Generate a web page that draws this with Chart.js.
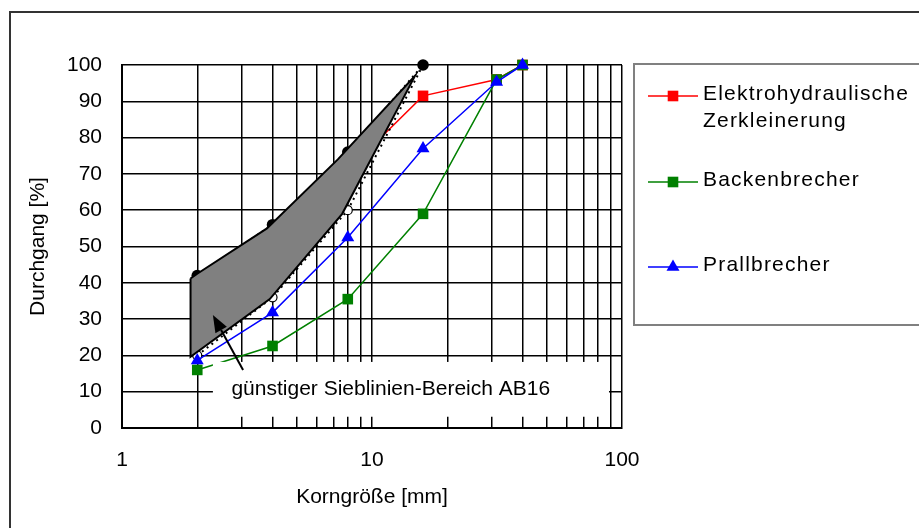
<!DOCTYPE html>
<html>
<head>
<meta charset="utf-8">
<script src="https://cdn.jsdelivr.net/npm/chart.js@4/dist/chart.umd.min.js"></script>
<style>
    html, body { margin: 0; padding: 0; background: #fff; overflow: hidden; }
    #frame { position: absolute; left: 9px; top: 11px; width: 1000px; height: 600px; border: 2px solid #333; }
    #wrap { position: absolute; left: 0; top: 0; width: 919px; height: 528px; }
</style>
</head>
<body>
<div id="frame"></div>
<div id="wrap"><canvas id="sieveChart" width="919" height="528"></canvas></div>
<script>
// sieve sizes [mm] and passing [%]
const kornGroesse = [2, 4, 8, 16, 31.5, 40];
const elektroDurchgang = [28, 47, 71, 91.5, 96, 100];
const backenDurchgang = [16, 22.6, 35.5, 59, 96, 100];
const prallDurchgang = [18.6, 31.8, 52.5, 77, 95.3, 100];

// AB16 grading limits
const grenzKorn = [2, 4, 8, 16];
const grenzOben = [42, 56, 76, 100];
const grenzUnten = [20, 36, 60, 100];

// outline of the favourable area
const bereichKorn = [1.88, 2.0, 3.8, 7.3, 14.86, 7.6, 3.9, 1.88, 1.88];
const bereichDurchgang = [41.2, 42.5, 55, 74, 97, 59, 35.5, 19.6, 41.2];

const xGrid = [1, 2, 3, 4, 5, 6, 7, 8, 9, 10, 20, 30, 40, 50, 60, 70, 80, 90, 100];
const xLabels = [1, 10, 100];

const FONT = "'Liberation Sans', Arial, sans-serif";

Chart.defaults.font.family = FONT;
Chart.defaults.font.size = 21;
Chart.defaults.color = '#000';

function pts(xs, ys) {
    return xs.map(function (x, i) { return {x: x, y: ys[i]}; });
}

// white label box with the arrow into the shaded area
const bereichLabel = {
    id: 'bereichLabel',
    afterDatasetsDraw(chart) {
        const ctx = chart.ctx;
        const xs = chart.scales.x, ys = chart.scales.y;
        const x0 = xs.getPixelForValue(2.31), x1 = xs.getPixelForValue(88.7);
        const y0 = ys.getPixelForValue(18.2), y1 = ys.getPixelForValue(3.1);
        ctx.save();
        ctx.fillStyle = '#fff';
        ctx.fillRect(x0, y0, x1 - x0, y1 - y0);
        ctx.fillStyle = '#000';
        ctx.font = '21px ' + FONT;
        ctx.textBaseline = 'alphabetic';
        ctx.fillText('günstiger Sieblinien-Bereich AB16', xs.getPixelForValue(2.74), ys.getPixelForValue(9.1));

        const ax = xs.getPixelForValue(3.05), ay = ys.getPixelForValue(16);
        const bx = xs.getPixelForValue(2.31), by = ys.getPixelForValue(31.1);
        const ang = Math.atan2(by - ay, bx - ax);
        const len = 17, half = 6.5;
        const hx = bx - Math.cos(ang) * len, hy = by - Math.sin(ang) * len;
        ctx.strokeStyle = '#000';
        ctx.lineWidth = 2;
        ctx.beginPath();
        ctx.moveTo(ax, ay);
        ctx.lineTo(hx, hy);
        ctx.stroke();
        ctx.beginPath();
        ctx.moveTo(bx, by);
        ctx.lineTo(hx + Math.sin(ang) * half, hy - Math.cos(ang) * half);
        ctx.lineTo(hx - Math.sin(ang) * half, hy + Math.cos(ang) * half);
        ctx.closePath();
        ctx.fill();
        ctx.restore();
    }
};

// boxed legend on the right, built from the three crusher series
const boxLegend = {
    id: 'boxLegend',
    afterDraw(chart) {
        const ctx = chart.ctx;
        const rows = [96, 182, 267];
        ctx.save();
        ctx.strokeStyle = '#808080';
        ctx.lineWidth = 2;
        ctx.strokeRect(634, 64, 320, 261);
        ctx.font = '21px ' + FONT;
        ctx.letterSpacing = '1.2px';
        ctx.textBaseline = 'alphabetic';
        chart.data.datasets.filter(function (ds) { return ds.inLegend; }).forEach(function (ds, i) {
            const y = rows[i];
            ctx.strokeStyle = ds.borderColor;
            ctx.lineWidth = 1.5;
            ctx.beginPath();
            ctx.moveTo(648, y);
            ctx.lineTo(698, y);
            ctx.stroke();
            ctx.fillStyle = ds.backgroundColor;
            Chart.helpers.drawPoint(ctx, {pointStyle: ds.pointStyle, radius: ds.pointRadius, rotation: 0, borderWidth: 0}, 673, y);
            ctx.fillStyle = '#000';
            [].concat(ds.label).forEach(function (line, j) {
                ctx.fillText(line, 703, y + 4.3 + j * 27);
            });
        });
        ctx.restore();
    }
};

// draw order: lower "order" ends up on top
new Chart(document.getElementById('sieveChart'), {
    type: 'line',
    data: {
        datasets: [
            {
                label: ['Elektrohydraulische', 'Zerkleinerung'],
                inLegend: true,
                data: pts(kornGroesse, elektroDurchgang),
                borderColor: '#ff0000',
                backgroundColor: '#ff0000',
                borderWidth: 1.5,
                pointStyle: 'rect',
                pointRadius: 7.5,
                pointBorderWidth: 0,
                clip: false,
                order: 5
            },
            {
                label: 'Backenbrecher',
                inLegend: true,
                data: pts(kornGroesse, backenDurchgang),
                borderColor: '#008000',
                backgroundColor: '#008000',
                borderWidth: 1.5,
                pointStyle: 'rect',
                pointRadius: 7.5,
                pointBorderWidth: 0,
                clip: false,
                order: 2
            },
            {
                label: 'Prallbrecher',
                inLegend: true,
                data: pts(kornGroesse, prallDurchgang),
                borderColor: '#0000ff',
                backgroundColor: '#0000ff',
                borderWidth: 1.5,
                pointStyle: 'triangle',
                pointRadius: 7.5,
                pointBorderWidth: 0,
                clip: false,
                order: 1
            },
            {
                label: 'AB16',
                data: pts(bereichKorn, bereichDurchgang),
                borderColor: '#000',
                backgroundColor: '#808080',
                borderWidth: 2,
                fill: 'shape',
                pointRadius: 0,
                tension: 0,
                order: 3
            },
            {
                label: 'AB16 oben',
                data: pts(grenzKorn, grenzOben),
                borderColor: '#000',
                backgroundColor: '#000',
                borderWidth: 2,
                borderDash: [2, 4],
                pointStyle: 'circle',
                pointRadius: 5.8,
                pointBorderWidth: 0,
                clip: false,
                order: 4
            },
            {
                label: 'AB16 unten',
                data: pts(grenzKorn, grenzUnten),
                borderColor: '#000',
                backgroundColor: '#fff',
                borderWidth: 2,
                borderDash: [2, 4],
                pointStyle: 'circle',
                pointRadius: 4.5,
                pointBorderWidth: 1.2,
                pointBorderColor: '#000',
                clip: false,
                order: 4
            }
        ]
    },
    options: {
        responsive: false,
        animation: false,
        events: [],
        layout: { padding: { top: 65, right: 297, left: 0, bottom: 0 } },
        plugins: {
            legend: { display: false },
            tooltip: { enabled: false }
        },
        scales: {
            x: {
                type: 'logarithmic',
                min: 1,
                max: 100,
                afterBuildTicks: function (scale) {
                    scale.ticks = xGrid.map(function (v) { return {value: v}; });
                },
                afterFit: function (scale) { scale.height = 100; },
                ticks: {
                    autoSkip: false,
                    maxRotation: 0,
                    padding: 20,
                    callback: function (v) { return xLabels.indexOf(v) >= 0 ? String(v) : ''; }
                },
                grid: { color: '#000', lineWidth: 1.5, drawTicks: false },
                border: { color: '#000', width: 2 },
                title: { display: true, text: 'Korngröße [mm]', padding: { top: 0, bottom: 18 } }
            },
            y: {
                min: 0,
                max: 100,
                afterFit: function (scale) { scale.width = 122; },
                ticks: { stepSize: 10, padding: 20 },
                grid: { color: '#000', lineWidth: 1.5, drawTicks: false },
                border: { color: '#000', width: 2 },
                title: { display: true, text: 'Durchgang [%]', padding: { top: 26, bottom: 0 } }
            }
        }
    },
    plugins: [bereichLabel, boxLegend]
});
</script>
</body>
</html>
